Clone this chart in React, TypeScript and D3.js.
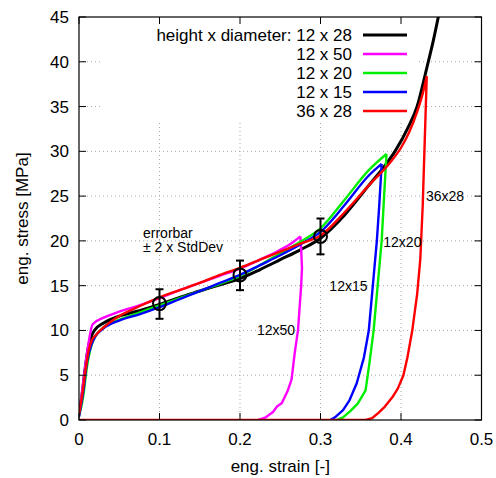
import React from "react";
import * as d3 from "d3";

type P = [number, number];

const xTicks = [0, 0.1, 0.2, 0.3, 0.4, 0.5];
const yTicks = [0, 5, 10, 15, 20, 25, 30, 35, 40, 45];

const seriesNames = ["12 x 28", "12 x 50", "12 x 20", "12 x 15", "36 x 28"];
const seriesColors = ["#000000", "#ff00ff", "#00ee00", "#0000ff", "#ff0000"];

const s12x28: P[] = [
  [0, 0.6], [0.004, 3], [0.008, 6], [0.012, 8.3], [0.016, 9.5], [0.02, 10.1], [0.03, 10.8],
  [0.05, 11.6], [0.075, 12.2], [0.1, 12.9], [0.125, 13.7], [0.15, 14.4], [0.175, 15.1],
  [0.2, 15.8], [0.225, 16.8], [0.25, 17.9], [0.275, 19], [0.3, 20.3], [0.33, 22.9],
  [0.36, 26.2], [0.38, 28.4], [0.3925, 30], [0.409, 32.7], [0.42, 35], [0.432, 39.3],
  [0.44, 42.3], [0.447, 45.3],
];
const s12x50: P[] = [
  [0, 0.5], [0.005, 4], [0.01, 7.5], [0.017, 10.7], [0.03, 11.4], [0.05, 12.1], [0.075, 12.8],
  [0.1, 13.6], [0.125, 14.5], [0.15, 15.3], [0.175, 16.1], [0.2, 16.9], [0.225, 17.9],
  [0.25, 19], [0.265, 19.8], [0.275, 20.5], [0.276, 19], [0.277, 17], [0.276, 15],
  [0.274, 12.5], [0.272, 10], [0.268, 7.5], [0.264, 4.5], [0.259, 3.2], [0.252, 1.9],
  [0.246, 1.5], [0.241, 0.9], [0.232, 0.3], [0.223, 0],
];
const s12x20: P[] = [
  [0, 0.4], [0.005, 2.5], [0.01, 6], [0.015, 8.2], [0.02, 9.3], [0.03, 10.3], [0.05, 11.2],
  [0.075, 12], [0.1, 12.8], [0.125, 13.6], [0.15, 14.4], [0.175, 15.2], [0.2, 16.1],
  [0.225, 17.3], [0.25, 18.6], [0.275, 19.9], [0.3, 21.4], [0.33, 24.6], [0.36, 27.9],
  [0.382, 29.7], [0.379, 25], [0.376, 20], [0.371, 15], [0.366, 10], [0.361, 6.5],
  [0.356, 3.3], [0.346, 1.8], [0.337, 1], [0.328, 0.3], [0.32, 0],
];
const s12x15: P[] = [
  [0, 0.4], [0.005, 3], [0.01, 6.5], [0.015, 8.3], [0.02, 9.3], [0.03, 10.2], [0.05, 11.1],
  [0.075, 11.8], [0.1, 12.6], [0.125, 13.5], [0.15, 14.4], [0.175, 15.3], [0.2, 16.2],
  [0.225, 17.3], [0.25, 18.4], [0.275, 19.6], [0.3, 21], [0.33, 24], [0.36, 27.3],
  [0.376, 28.6], [0.373, 24], [0.37, 20], [0.365, 15], [0.36, 10], [0.354, 7],
  [0.345, 4.1], [0.336, 2.2], [0.328, 1.1], [0.318, 0.3], [0.312, 0],
];
const s36x28: P[] = [
  [0, 0.6], [0.004, 2.8], [0.008, 5.5], [0.012, 7.8], [0.016, 8.9], [0.021, 9.5], [0.03, 10.3],
  [0.046, 11.4], [0.075, 12.7], [0.1, 13.7], [0.125, 14.5], [0.15, 15.3], [0.175, 16.2],
  [0.2, 17], [0.225, 17.9], [0.25, 18.8], [0.275, 19.7], [0.3, 20.6], [0.33, 23.2],
  [0.36, 26.2], [0.386, 28.7], [0.4, 30.4], [0.41, 32.1], [0.42, 34.4], [0.428, 36.8],
  [0.432, 38.4], [0.427, 24], [0.424, 18], [0.42, 14], [0.414, 10], [0.408, 7], [0.403, 5],
  [0.396, 3.5], [0.389, 2.5], [0.38, 1.5], [0.372, 0.8], [0.364, 0.2], [0.356, 0], [0, 0],
];
const seriesData = [s12x28, s12x50, s12x20, s12x15, s36x28];

const errX = [0.1, 0.2, 0.3];
const errMean = [13, 16.2, 20.5];
const errLow = [11.3, 14.5, 18.5];
const errHigh = [14.6, 17.8, 22.5];

const annotations: { text: string; x: number; y: number }[] = [
  { text: "errorbar", x: 0.0795, y: 20.3 },
  { text: "\u00b1 2 x StdDev", x: 0.0795, y: 18.76 },
  { text: "12x50", x: 0.221, y: 9.5 },
  { text: "12x15", x: 0.311, y: 14.4 },
  { text: "12x20", x: 0.378, y: 19.3 },
  { text: "36x28", x: 0.431, y: 24.45 },
];

const W = 496, H = 478;
const L = 79, R = 481.5, T = 17, B = 420;
const FONT = "'Liberation Sans', Arial, Helvetica, sans-serif";

export default function App() {
  const x = d3.scaleLinear().domain([0, 0.5]).range([L, R]);
  const y = d3.scaleLinear().domain([0, 45]).range([B, T]);
  const smooth = d3
    .line<P>()
    .x((d) => x(d[0]))
    .y((d) => y(d[1]))
    .curve(d3.curveMonotoneX);
  const straight = d3
    .line<P>()
    .x((d) => x(d[0]))
    .y((d) => y(d[1]));
  const pathFor = (d: P[]) => {
    const peak = d3.maxIndex(d, (p) => p[1]);
    const load = smooth(d.slice(0, peak + 1)) || "";
    const unload = peak < d.length - 1 ? straight(d.slice(peak)) || "" : "";
    return load + unload;
  };
  const tick = 7;
  const legendRows = [35, 54, 73, 92, 111];

  return (
    <svg width={W} height={H} style={{ position: "absolute", left: 0, top: 0, background: "#fff" }}
      fontFamily={FONT}>
      <defs>
        <clipPath id="plot">
          <rect x={L} y={T} width={R - L} height={B - T} />
        </clipPath>
      </defs>
      {/* grid */}
      <g stroke="#a8a8a8" strokeWidth={1} strokeDasharray="1,3">
        {xTicks.slice(1, -1).map((t) => (
          <line key={"gx" + t} x1={x(t)} x2={x(t)} y1={B} y2={T} />
        ))}
        {yTicks.slice(1, -1).map((t) => (
          <line key={"gy" + t} x1={L} x2={R} y1={y(t)} y2={y(t)} />
        ))}
      </g>
      {/* key background */}
      <rect x={103} y={T + 1} width={315} height={103} fill="#fff" />
      {/* curves */}
      <g clipPath="url(#plot)" fill="none" strokeLinejoin="round">
        {seriesData.map((d, i) => (
          <path key={i} d={pathFor(d)} stroke={seriesColors[i]} strokeWidth={i === 0 ? 3 : 2.4} />
        ))}
      </g>
      {/* error bars */}
      <g stroke="#000" strokeWidth={2} fill="none">
        {errX.map((ex, i) => (
          <g key={i}>
            <line x1={x(ex)} x2={x(ex)} y1={y(errLow[i])} y2={y(errHigh[i])} />
            <line x1={x(ex) - 4} x2={x(ex) + 4} y1={y(errLow[i])} y2={y(errLow[i])} />
            <line x1={x(ex) - 4} x2={x(ex) + 4} y1={y(errHigh[i])} y2={y(errHigh[i])} />
            <circle cx={x(ex)} cy={y(errMean[i])} r={6.5} />
          </g>
        ))}
      </g>
      {/* annotations */}
      <g fontSize={14} fill="#000">
        {annotations.map((a) => (
          <text key={a.text} x={x(a.x)} y={y(a.y)}>{a.text}</text>
        ))}
      </g>
      {/* legend */}
      <g fontSize={17}>
        {seriesNames.map((n, i) => (
          <g key={n}>
            <text x={352} y={legendRows[i] + 6} textAnchor="end">
              {i === 0 ? "height x diameter: " + n : n}
            </text>
            <line x1={363} x2={407} y1={legendRows[i]} y2={legendRows[i]}
              stroke={seriesColors[i]} strokeWidth={i === 0 ? 3 : 2.4} />
          </g>
        ))}
      </g>
      {/* border + ticks */}
      <rect x={L} y={T} width={R - L} height={B - T} fill="none" stroke="#000" strokeWidth={1.2} />
      <g stroke="#000" strokeWidth={1}>
        {xTicks.map((t) => (
          <g key={"tx" + t}>
            <line x1={x(t)} x2={x(t)} y1={B} y2={B - tick} />
            <line x1={x(t)} x2={x(t)} y1={T} y2={T + tick} />
          </g>
        ))}
        {yTicks.map((t) => (
          <g key={"ty" + t}>
            <line x1={L} x2={L + tick} y1={y(t)} y2={y(t)} />
            <line x1={R} x2={R - tick} y1={y(t)} y2={y(t)} />
          </g>
        ))}
      </g>
      {/* tick labels */}
      <g fontSize={17} fill="#000">
        {xTicks.map((t) => (
          <text key={"lx" + t} x={x(t)} y={445} textAnchor="middle">{String(t)}</text>
        ))}
        {yTicks.map((t) => (
          <text key={"ly" + t} x={69} y={y(t) + 6} textAnchor="end">{String(t)}</text>
        ))}
      </g>
      {/* axis titles */}
      <text x={(L + R) / 2} y={472} textAnchor="middle" fontSize={17}>eng. strain [-]</text>
      <text transform={`translate(28,${(T + B) / 2}) rotate(-90)`} textAnchor="middle" fontSize={17}>
        eng. stress [MPa]
      </text>
    </svg>
  );
}
